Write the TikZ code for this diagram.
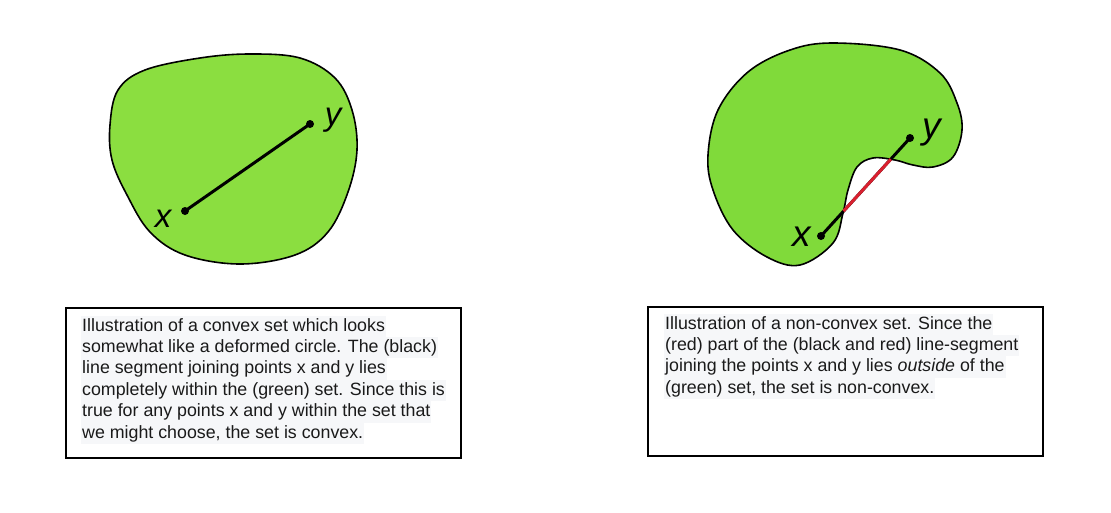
\documentclass[tikz,border=0pt]{standalone}
\usepackage{fontspec}
\setmainfont{Liberation Sans}
\usetikzlibrary{intersections}
\definecolor{greenL}{HTML}{8BDE40}
\definecolor{greenR}{HTML}{80DA3A}
\definecolor{segred}{HTML}{D9202F}
\definecolor{hilite}{HTML}{F6F7F9}
\definecolor{txt}{HTML}{1A1A1A}
\tikzset{
  blob/.style={draw=black, line width=1.6pt},
  seg/.style={line width=3pt, line cap=round},
  pt/.style={circle, fill=black, inner sep=0pt, minimum size=8pt},
  ptlabel/.style={font=\fontsize{33}{33}\selectfont\itshape, inner sep=0pt},
  ptlabelR/.style={font=\fontsize{37}{37}\selectfont\itshape, inner sep=0pt},
  capbox/.style={draw=black, line width=2pt, minimum width=395pt, inner sep=0pt},
  capline/.style={anchor=base west, fill=hilite, text=txt, inner xsep=1pt, inner ysep=0pt,
     text height=15.5pt, text depth=5.9pt, font=\fontsize{17.8}{21.4}\selectfont},
}
\begin{document}
\begin{tikzpicture}[x=1pt,y=-1pt]
\useasboundingbox[fill=white] (0,0) rectangle (1111,512);
% left convex set
\draw[blob, fill=greenL] plot[smooth cycle, tension=0.6] coordinates {
 (110,125) (118,90) (145,70) (200,58) (250,54) (300,58) (335,78) (352,110)
 (357,150) (348,192) (328,232) (295,255) (240,264) (185,255) (150,232)
 (127,195) (112,160)};
\node[pt] (lx) at (185,211) {};
\node[pt] (ly) at (310,124) {};
\draw[seg] (lx.center) -- (ly.center);
\node[ptlabel] (lxl) at (163,219) {x};
\node[ptlabel] (lyl) at (333,120) {y};
% right non-convex set
\draw[blob, fill=greenR, name path=nblob] plot[smooth cycle, tension=0.6] coordinates {
 (833,43) (900,50) (940,73) (957,103) (962,130) (953,157) (933,167) (913,165)
 (895,160) (873,158) (857,167) (848,190) (843,213) (833,243) (800,265)
 (767,257) (733,230) (713,190) (708,155) (718,110) (748,72) (790,50)};
\node[pt] (rx) at (821,236) {};
\node[pt] (ry) at (910,138) {};
\path[name path=rseg] (rx.center) -- (ry.center);
\draw[seg] (rx.center) -- (ry.center);
\path[name intersections={of=rseg and nblob, by={ia,ib}}];
\draw[line width=3pt, segred] (ia) -- (ib);
\node[ptlabelR] (rxl) at (802,237) {x};
\node[ptlabelR] (ryl) at (932,133) {y};
% caption boxes
\node[capbox, minimum height=150pt] (lbox) at (263.5,383) {};
\node[capbox, minimum height=149pt] (rbox) at (845.5,381.5) {};
\node[capline] (l1) at (81,331) {Illustration of a convex set which looks};
\node[capline] (l2) at (81,352.4) {somewhat like a deformed circle. The (black)};
\node[capline] (l3) at (81,373.8) {line segment joining points x and y lies};
\node[capline] (l4) at (81,395.2) {completely within the (green) set. Since this is};
\node[capline] (l5) at (81,416.6) {true for any points x and y within the set that};
\node[capline] (l6) at (81,438) {we might choose, the set is convex.};
\node[capline] (r1) at (664,329) {Illustration of a non-convex set. Since the};
\node[capline] (r2) at (664,350.4) {(red) part of the (black and red) line-segment};
\node[capline] (r3) at (664,371.8) {joining the points x and y lies \textit{outside} of the};
\node[capline] (r4) at (664,393.2) {(green) set, the set is non-convex.};
\end{tikzpicture}
\end{document}
